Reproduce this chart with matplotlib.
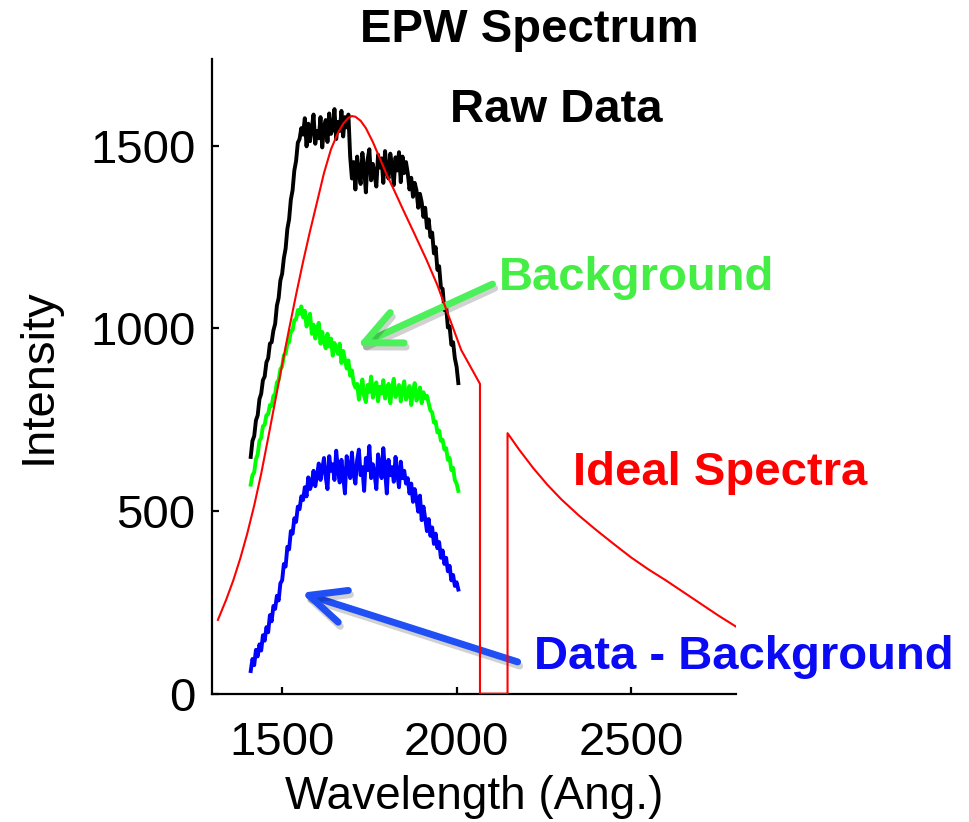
import matplotlib
matplotlib.use("Agg")
import matplotlib.pyplot as plt
import matplotlib.patheffects as pe
import numpy as np

plt.rcParams['font.family'] = ['Liberation Sans', 'DejaVu Sans']

# wavelength grid of the measured spectra (Angstrom)
wavelength = np.arange(1410, 2010, 5)

raw_data = [
    648, 692, 705, 748, 762, 806, 821, 858, 868, 907,
    918, 958, 962, 994, 1012, 1062, 1083, 1131, 1149, 1192,
    1218, 1272, 1298, 1352, 1378, 1432, 1458, 1508, 1518, 1548,
    1530, 1575, 1498, 1560, 1512, 1548, 1585, 1505, 1540, 1520,
    1578, 1495, 1552, 1570, 1510, 1588, 1532, 1546, 1600, 1518,
    1565, 1540, 1595, 1525, 1578, 1550, 1585,
    1470, 1410,
    1455, 1380, 1470, 1425, 1395, 1480, 1438, 1372, 1462, 1490,
    1405, 1450, 1420, 1388, 1475, 1440, 1465, 1398, 1485, 1430,
    1410, 1478, 1445, 1392, 1468, 1432, 1482, 1400, 1470, 1425,
    1455,
    1425, 1380, 1412, 1360, 1398, 1378, 1330, 1368, 1345, 1305,
    1330, 1275, 1298, 1250, 1262, 1205, 1222, 1160, 1170, 1112,
    1108, 1050, 1060, 1002, 1005, 955, 962, 918, 895, 850,
]

background = [
    572, 598, 606, 642, 655, 692, 700, 732, 736, 762,
    765, 790, 788, 815, 820, 852, 858, 888, 895, 926,
    930, 958, 962, 992, 995, 1022, 1025, 1050, 1040, 1060,
    1030, 1048, 1005, 1022, 1040, 985, 1010, 972, 998, 1015,
    958, 990, 962, 945, 985, 950, 972, 925, 960, 942,
    930, 958, 905, 938, 915, 890, 912, 870, 885, 850,
    838,
    848, 805, 832, 860, 815, 798, 845, 826, 868, 810,
    835, 852, 800, 840, 822, 858, 808, 830, 848, 795,
    838, 862, 812, 826, 845, 800, 834, 855, 805, 820,
    842, 790, 828, 850, 802, 815, 838, 795, 825, 808,
    815,
    795, 775, 770, 742, 745, 715, 720, 692, 695, 668,
    672, 640, 645, 612, 618, 585, 575, 555,
]

subtracted = [
    62, 95, 78, 120, 102, 135, 118, 160, 145, 182,
    168, 215, 198, 240, 232, 268, 255, 302, 310, 355,
    348, 402, 395, 445, 438, 480, 470, 512, 505, 540,
    530, 565, 540, 592, 560, 575, 610, 568, 598, 630,
    585, 615, 645, 592, 560, 650, 610, 628, 585, 665,
    612, 578, 640, 595, 548, 650, 620, 590, 660, 600,
    575, 640, 668, 598, 620, 555, 645, 612, 678, 590,
    628, 600, 560, 655, 625, 590, 672, 610, 548, 640,
    598, 620, 580, 648, 602, 565, 635, 590, 610, 575,
    590, 548, 575, 525, 560, 532, 498, 542, 475, 512,
    480, 445, 478, 432, 455, 410, 438, 398, 415, 372,
    392, 355, 372, 335, 350, 310, 325, 295, 305, 285,
]

# model spectrum with the absorption gap
ideal_wl = [1316, 1340, 1360, 1380, 1400, 1420, 1440, 1460, 1480, 1500,
            1520, 1540, 1560, 1580, 1600, 1620, 1640, 1660, 1675, 1690,
            1700, 1710, 1725, 1740, 1760, 1780, 1800, 1820, 1847, 1880,
            1914, 1945, 1971, 2013, 2067, 2067, 2146, 2146, 2180, 2220,
            2260, 2300, 2350, 2400, 2450, 2500, 2550, 2600, 2650, 2700,
            2750, 2800]
ideal = [202, 258, 310, 370, 438, 515, 602, 700, 800, 900,
         998, 1092, 1182, 1266, 1345, 1425, 1490, 1535, 1560, 1576,
         1581, 1579, 1568, 1548, 1510, 1465, 1420, 1380, 1324, 1257,
         1187, 1118, 1050, 941, 848, 0, 0, 713, 667, 617,
         572, 532, 488, 448, 410, 373, 340, 310, 278, 246,
         214, 184]

fig = plt.figure(figsize=(9.7, 8.22), dpi=100)
ax = fig.add_axes([0.2189, 0.1561, 0.5396, 0.7721])

ax.plot(ideal_wl, ideal, color='#ff0000', lw=1.5, zorder=4)
ax.plot(wavelength, raw_data, color='black', lw=2.8, zorder=3)
ax.plot(wavelength, background, color='#00ff00', lw=2.8, zorder=3)
ax.plot(wavelength, subtracted, color='#0000ff', lw=2.8, zorder=3)

ax.set_xlim(1300, 2800)
ax.set_ylim(0, 1737)
ax.set_xticks([1500, 2000, 2500])
ax.set_yticks([0, 500, 1000, 1500])
ax.spines['top'].set_visible(False)
ax.spines['right'].set_visible(False)
for s in ['left', 'bottom']:
    ax.spines[s].set_linewidth(1.6)
ax.tick_params(direction='in', length=5, width=1.6, labelsize=34)
ax.tick_params(axis='x', pad=20)
ax.tick_params(axis='y', pad=12)
ax.set_xlabel('Wavelength (Ang.)', fontsize=33, labelpad=7)
ax.set_ylabel('Intensity', fontsize=34, labelpad=21)

tfont = dict(fontsize=34, fontweight='bold', ha='center', va='center',
             transform=ax.transAxes, clip_on=False)
ax.text(0.605, 1.0457, 'EPW Spectrum', color='black', **tfont)
ax.text(0.6567, 0.9197, 'Raw Data', color='black', **tfont)
ax.text(0.811, 0.655, 'Background', color='#44ee44', **tfont)
ax.text(0.970, 0.3477, 'Ideal Spectra', color='#ff0000', **tfont)
ax.text(1.0159, 0.0578, 'Data - Background', color='#0a0af5', **tfont)

shadow = [pe.SimpleLineShadow(offset=(1.5, -3), shadow_color='black', alpha=0.18),
          pe.Normal()]
arrows = [((1714, 951), (2103, 1121), '#4cf05a'),
          ((1554, 276), (2175, 87), '#1f4ff5')]
for tip, tail, col in arrows:
    a = ax.annotate('', xy=tip, xytext=tail,
                    arrowprops=dict(arrowstyle='->,head_length=1.3,head_width=0.6',
                                    color=col, lw=5, mutation_scale=20,
                                    shrinkA=0, shrinkB=0),
                    annotation_clip=False)
    a.arrow_patch.set_path_effects(shadow)

fig.savefig('out.png', dpi=100)
